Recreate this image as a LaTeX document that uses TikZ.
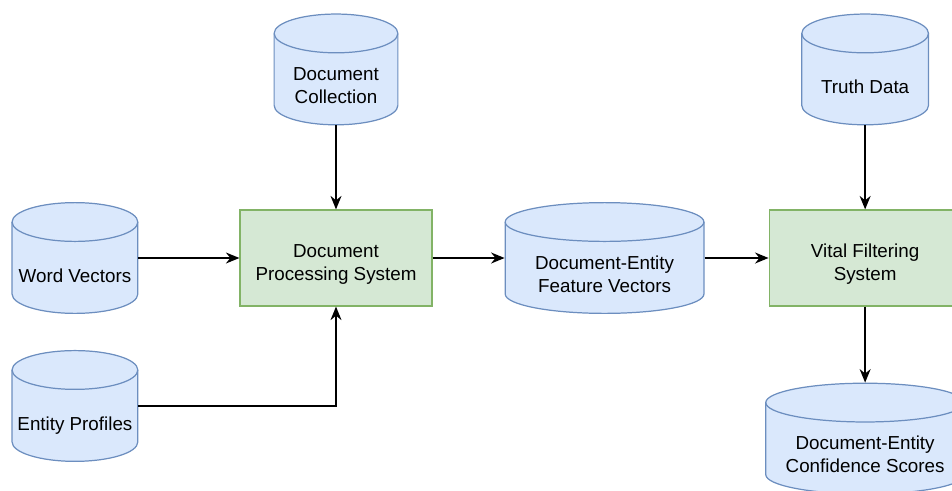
\documentclass[tikz,border=0pt]{standalone}
\usepackage{fontspec}
\setmainfont{Liberation Sans}
\usetikzlibrary{arrows.meta,shapes,positioning}
\definecolor{dbfill}{HTML}{DAE8FC}
\definecolor{dbline}{HTML}{6C8EBF}
\definecolor{sysfill}{HTML}{D5E8D4}
\definecolor{sysline}{HTML}{82B366}
\newcommand{\stacktext}[2][1.05cm]{\begin{tabular}{@{}c@{}}\rule{0pt}{#1}#2\end{tabular}}

\begin{document}
\begin{tikzpicture}[x=0.02cm,y=-0.02cm,>={Stealth[length=0.27cm,width=0.22cm]},
                    font=\fontsize{10.7}{13.1}\selectfont]
  \tikzset{store/.style={rectangle,minimum width=#1,minimum height=2.24cm,
                         inner sep=0pt,outer sep=0pt,
      path picture={
        \path[draw=dbline,fill=dbfill,line width=0.7pt]
          ([shift={(0.35pt,-0.4cm)}]path picture bounding box.north west)
          -- ([shift={(0.35pt,0.4cm)}]path picture bounding box.south west)
          arc[start angle=180,end angle=360,x radius=#1/2-0.35pt,y radius=0.4cm-0.35pt]
          -- ([shift={(-0.35pt,-0.4cm)}]path picture bounding box.north east)
          arc[start angle=0,end angle=180,x radius=#1/2-0.35pt,y radius=0.4cm-0.35pt]
          -- cycle;
        \draw[dbline,line width=0.7pt]
          ([shift={(0.35pt,-0.4cm)}]path picture bounding box.north west)
          arc[start angle=180,end angle=360,x radius=#1/2-0.35pt,y radius=0.4cm-0.35pt];
      }}}
  \tikzstyle{system}=[rectangle,draw=sysline,fill=sysfill,line width=0.7pt,
                      minimum width=3.84cm,minimum height=1.92cm]
  \tikzstyle{flow}=[->,line width=0.9pt]

  \useasboundingbox (0,0) rectangle (952,490);

  % Document processing stage.
  \node [system] (dps) at (336,258) {\stacktext[0.59cm]{Document\\Processing System}};
  \node [store=2.5cm] (coll) [above=1.68cm of dps] {\stacktext{Document\\Collection}};
  \node [store=2.54cm] (wvec) [left=2.02cm of dps] {\stacktext[1.1cm]{Word Vectors}};
  \node [store=2.54cm] (prof) [below=0.72cm of wvec] {\stacktext[1.1cm]{Entity Profiles}};

  % Feature vectors.
  \node [store=4cm] (feat) [right=1.44cm of dps] {\stacktext{Document-Entity\\Feature Vectors}};

  % Vital filtering stage.
  \node [system] (vfs) [right=1.28cm of feat] {\stacktext[0.59cm]{Vital Filtering\\System}};
  \node [store=2.56cm] (truth) [above=1.68cm of vfs] {\stacktext[1.1cm]{Truth Data}};
  \node [store=4cm] (conf) [below=1.52cm of vfs] {\stacktext{Document-Entity\\Confidence Scores}};

  \draw [flow] (coll) -- (dps);
  \draw [flow] (wvec) -- (dps);
  \draw [flow] (prof.east) -| (dps.south);
  \draw [flow] (dps) -- (feat);
  \draw [flow] (feat) -- (vfs);
  \draw [flow] (truth) -- (vfs);
  \draw [flow] (vfs) -- (conf);
\end{tikzpicture}
\end{document}
